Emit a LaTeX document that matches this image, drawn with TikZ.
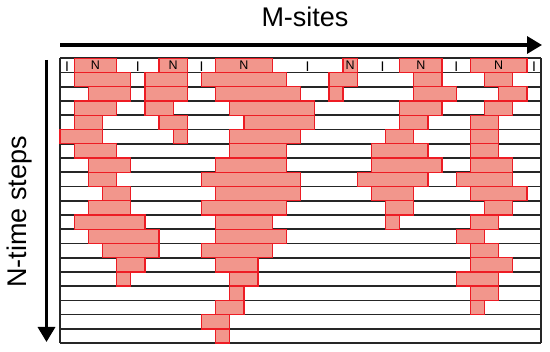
\documentclass[tikz,border=0pt]{standalone}
\usepackage{fontspec}
\setmainfont{Liberation Sans}
\usetikzlibrary{arrows.meta}
\definecolor{segfill}{RGB}{242,150,140}
\definecolor{segline}{RGB}{237,28,36}
\begin{document}
\begin{tikzpicture}[x=1pt,y=-1pt,
  gridline/.style={black!85,line width=1.7pt},
  seg/.style={draw=segline,fill=segfill,line width=1.3pt},
  bigarrow/.style={line width=3.3pt,-{Triangle[length=15pt,width=17pt]}},
  biglabel/.style={font=\fontsize{27}{27}\selectfont,inner sep=0pt},
  nlabel/.style={font=\fontsize{12.5}{12.5}\selectfont,inner sep=0pt,anchor=base},
  ilabel/.style={font=\fontsize{14}{14}\selectfont,inner sep=0pt,anchor=base}]
\useasboundingbox (0,0) rectangle (550,352);
% axes
\coordinate (hs) at (60,45);
\coordinate (he) at (542,45);
\draw[bigarrow] (hs) -- (he);
\coordinate (vs) at (46.5,60);
\coordinate (ve) at (46.5,342);
\draw[bigarrow] (vs) -- (ve);
\node[biglabel,anchor=base] (msites) at (305,26.5) {M-sites};
\node[biglabel,anchor=base,rotate=90] (nsteps) at (26.5,212) {N-time steps};
% grid
\begin{scope}[xshift=60pt,yshift=-58.3pt,x=14.15pt,y=-14.24pt]
  \foreach \i in {0,...,20} \draw[gridline] (0,\i) -- (34,\i);
  \draw[gridline] (0,0) -- (0,20);
  \draw[gridline] (34,0) -- (34,20);
  \foreach \r/\L in {
    0/{1/4,7/9,11/15,20/21,24/27,29/33},
    1/{1/5,6/9,10/16,19/21,25/27,30/32},
    2/{2/5,6/9,11/17,19/20,25/28,31/33},
    3/{1/4,6/8,12/18,24/27,30/32},
    4/{1/3,7/9,13/18,24/26,29/31},
    5/{0/3,8/9,12/17,23/25,29/31},
    6/{1/4,12/16,22/26,29/31},
    7/{2/5,11/16,22/27,29/32},
    8/{2/4,10/17,21/26,28/32},
    9/{3/5,11/17,22/25,29/33},
    10/{2/5,10/16,23/25,30/32},
    11/{1/6,11/15,23/24,29/31},
    12/{2/7,11/16,28/30},
    13/{3/7,10/15,29/31},
    14/{4/6,11/14,29/32},
    15/{4/5,12/14,28/31},
    16/{12/13,29/31},
    17/{11/13,29/30},
    18/{10/12},
    19/{11/12}}
  {
    \foreach \a/\b in \L { \draw[seg] (\a,\r) rectangle (\b,\r+1); }
  }
  % top row labels
  \foreach \c [count=\k] in {2.5,8,13,20.5,25.5,31}
    \node[nlabel] (n\k) at (\c,0.8) {N};
  \foreach \c [count=\k] in {0.5,5.5,10,17.5,22.8,28,33.5}
    \node[ilabel] (i\k) at (\c,0.93) {I};
\end{scope}
\end{tikzpicture}
\end{document}
